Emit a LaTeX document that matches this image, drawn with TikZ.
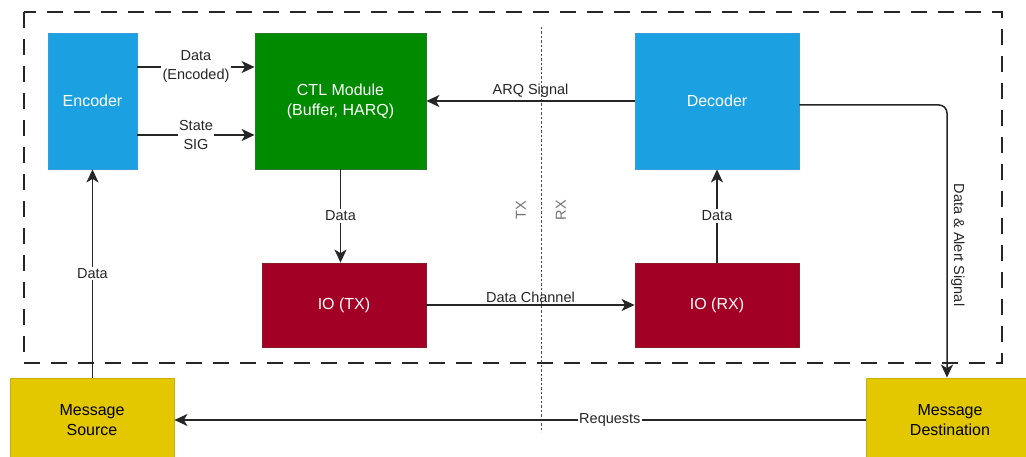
\documentclass[tikz,border=0pt]{standalone}
\usepackage{fontspec}
\setmainfont{Liberation Sans}
\usetikzlibrary{arrows.meta,calc}
\definecolor{encblue}{HTML}{1BA1E2}
\definecolor{encblueline}{HTML}{3B9AD8}
\definecolor{ctlgreen}{HTML}{008A00}
\definecolor{ctlgreenline}{HTML}{2A7A2A}
\definecolor{iored}{HTML}{A20025}
\definecolor{ioredline}{HTML}{8A1A2A}
\definecolor{msgyellow}{HTML}{E3C800}
\definecolor{msgyellowline}{HTML}{C8B000}
\definecolor{linegray}{HTML}{262626}
\tikzset{
  block/.style={draw, line width=0.8pt, inner sep=0pt, align=center,
    font=\fontsize{16}{20}\selectfont},
  bluebox/.style={block, fill=encblue, draw=encblueline, text=white},
  greenbox/.style={block, fill=ctlgreen, draw=ctlgreenline, text=white},
  redbox/.style={block, fill=iored, draw=ioredline, text=white},
  yellowbox/.style={block, fill=msgyellow, draw=msgyellowline, text=black},
  conn/.style={draw=linegray, line width=1.5pt, -{Stealth[length=13pt,width=12pt,inset=3.5pt]}},
  lbl/.style={font=\fontsize{14.5}{19}\selectfont, align=center, fill=white,
    inner sep=1.5pt, text=black!85},
  toplbl/.style={font=\fontsize{14.5}{19}\selectfont, text=black!85, inner sep=1pt},
}
\begin{document}
\begin{tikzpicture}[x=1pt,y=-1pt]
  \useasboundingbox (0,0) rectangle (1026,457);

  % system boundary
  \draw[black!85, line width=1.8pt, dash pattern=on 16pt off 11pt]
    (24,12) rectangle (1002,363);

  % TX / RX split
  \coordinate (splittop) at (541,27);
  \coordinate (splitbot) at (541,432);
  \draw[black!70, line width=0.9pt, dash pattern=on 2.5pt off 2pt] (splittop) -- (splitbot);
  \node[rotate=90, text=black!55, font=\fontsize{14.5}{19}\selectfont] (txlbl) at (521,210) {TX};
  \node[rotate=90, text=black!55, font=\fontsize{14.5}{19}\selectfont] (rxlbl) at (561,210) {RX};

  % blocks
  \node[bluebox, minimum width=89pt, minimum height=136pt] (enc) at (92.5,101) {Encoder};
  \node[greenbox, minimum width=171pt, minimum height=136pt] (ctl) at (340.5,101) {CTL Module\\(Buffer, HARQ)};
  \node[bluebox, minimum width=164pt, minimum height=136pt] (dec) at (717,101) {Decoder};
  \node[redbox, minimum width=164pt, minimum height=84pt] (iotx) at (344,305) {IO (TX)};
  \node[redbox, minimum width=164pt, minimum height=84pt] (iorx) at (717,305) {IO (RX)};
  \node[yellowbox, minimum width=164pt, minimum height=84pt] (src) at (92,420) {Message\\Source};
  \node[yellowbox, minimum width=168pt, minimum height=84pt] (dst) at (950,420) {Message\\Destination};

  % encoder -> CTL
  \draw[conn] ([yshift=34pt]enc.east) -- node[lbl] {Data\\(Encoded)} ([yshift=34pt]ctl.west);
  \draw[conn] ([yshift=-34pt]enc.east) -- node[lbl] {State\\SIG} ([yshift=-34pt]ctl.west);

  % CTL -> IO (TX)
  \draw[conn] (ctl.south) -- node[lbl] {Data} (ctl.south |- iotx.north);

  % data channel
  \draw[conn] (iotx.east) -- node[toplbl, above=1pt, pos=0.5] {Data Channel} (iorx.west);

  % IO (RX) -> decoder
  \draw[conn] (iorx.north) -- node[lbl] {Data} (dec.south);

  % ARQ feedback
  \draw[conn] (dec.west) -- node[toplbl, above=2pt, pos=0.5] {ARQ Signal} (ctl.east);

  % source -> encoder
  \draw[conn] (src.north -| enc.south) -- node[lbl, pos=0.5] {Data} (enc.south);

  % decoder -> destination
  \coordinate (bend) at (947,105);
  \draw[conn, rounded corners=8pt] ([yshift=-4pt]dec.east) -- (bend) -- (bend |- dst.north);
  \node[rotate=-90, toplbl, anchor=south] (alertlbl) at (950,245) {Data \& Alert Signal};

  % requests back to source
  \draw[conn] (dst.west) -- node[lbl, pos=0.37] {Requests} (src.east);
\end{tikzpicture}
\end{document}
